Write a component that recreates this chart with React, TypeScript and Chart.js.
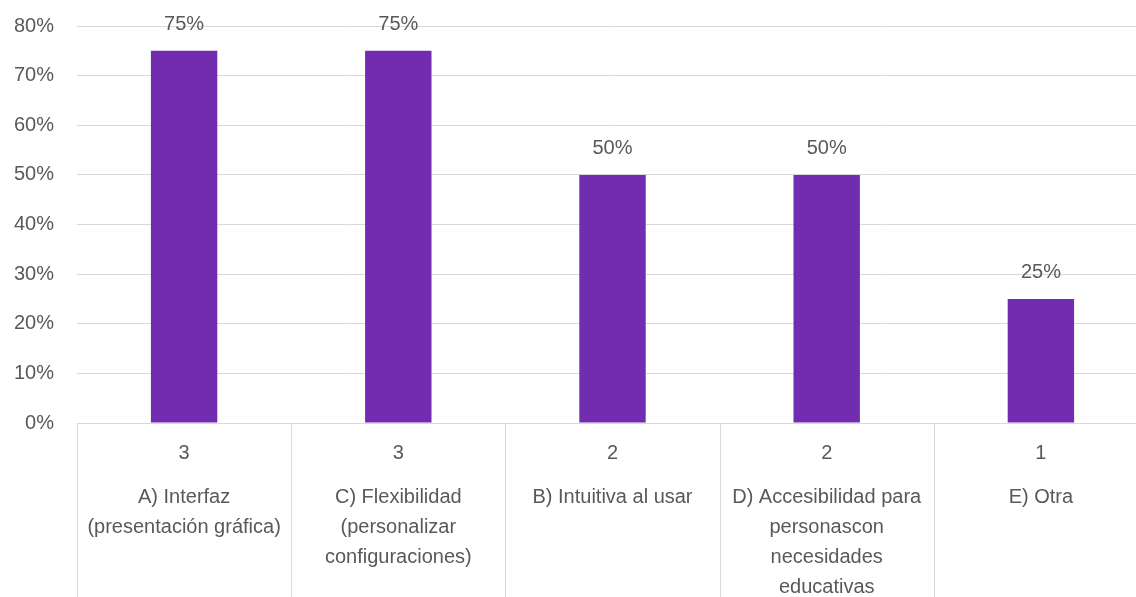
import React, { useEffect, useRef } from "react";
import { Chart, registerables } from "chart.js";

Chart.register(...registerables);

const categories: string[][] = [
  ["A) Interfaz", "(presentación gráfica)"],
  ["C) Flexibilidad", "(personalizar", "configuraciones)"],
  ["B) Intuitiva al usar"],
  ["D) Accesibilidad para", "personascon", "necesidades", "educativas"],
  ["E) Otra"],
];
const counts: number[] = [3, 3, 2, 2, 1];
const percents: number[] = [75, 75, 50, 50, 25];
const yTicks: number[] = [0, 10, 20, 30, 40, 50, 60, 70, 80];

const FONT = "'Liberation Sans', Arial, sans-serif";
const TEXT = "#595959";
const GRID = "#d9d9d9";
const SIZE = 20;

const tablePlugin = {
  id: "tablePlugin",
  afterDraw(chart: any) {
    const ctx = chart.ctx;
    const xs = chart.scales.x;
    const area = chart.chartArea;
    const n = categories.length;
    const step = xs.getPixelForValue(1) - xs.getPixelForValue(0);
    ctx.save();
    ctx.strokeStyle = GRID;
    ctx.lineWidth = 1;
    for (let i = 0; i <= n; i++) {
      const bx = Math.round(xs.getPixelForValue(i) - step / 2) + 0.5;
      ctx.beginPath();
      ctx.moveTo(bx, area.bottom);
      ctx.lineTo(bx, chart.height);
      ctx.stroke();
    }
    ctx.fillStyle = TEXT;
    ctx.textAlign = "center";
    ctx.textBaseline = "middle";
    ctx.font = `${SIZE}px ${FONT}`;
    for (let i = 0; i < n; i++) {
      const cx = xs.getPixelForValue(i);
      ctx.fillText(String(counts[i]), cx, area.bottom + 30);
      categories[i].forEach((line, j) => {
        ctx.fillText(line, cx, area.bottom + 74 + j * 30);
      });
    }
    // data labels
    const meta = chart.getDatasetMeta(0);
    meta.data.forEach((bar: any, i: number) => {
      ctx.fillText(percents[i] + "%", bar.x, bar.y - 26);
    });
    ctx.restore();
  },
};

export default function App() {
  const ref = useRef<HTMLCanvasElement | null>(null);
  useEffect(() => {
    if (!ref.current) return;
    const chart = new Chart(ref.current, {
      type: "bar",
      data: {
        labels: categories.map((c) => c.join(" ")),
        datasets: [
          {
            data: percents,
            backgroundColor: "#712CB0",
            borderWidth: 0,
            categoryPercentage: 1,
            barPercentage: 0.31,
          },
        ],
      },
      options: {
        responsive: false,
        animation: false,
        devicePixelRatio: 1,
        layout: { padding: { top: 26, left: 0, right: 0, bottom: 0 } },
        plugins: {
          legend: { display: false },
          tooltip: { enabled: false },
        },
        scales: {
          x: {
            grid: { display: false, drawTicks: false },
            border: { display: true, color: GRID },
            ticks: { display: false },
            afterFit: (s: any) => {
              s.height = 174;
              s.paddingLeft = 0;
              s.paddingRight = 0;
            },
          },
          y: {
            min: 0,
            max: 80,
            afterBuildTicks: (s: any) => {
              s.ticks = yTicks.map((v) => ({ value: v }));
            },
            grid: { color: GRID, drawTicks: false },
            border: { display: false },
            ticks: {
              padding: 23,
              color: TEXT,
              font: { size: SIZE, family: FONT },
              callback: (v: any) => v + "%",
            },
            afterFit: (s: any) => {
              s.width = 77;
              s.paddingTop = 0;
              s.paddingBottom = 0;
            },
          },
        },
      },
      plugins: [tablePlugin],
    });
    return () => chart.destroy();
  }, []);
  return (
    <div
      style={{
        position: "fixed",
        left: 0,
        top: 0,
        width: 1136,
        height: 597,
        overflow: "hidden",
        background: "#fff",
      }}
    >
      <canvas ref={ref} width={1148} height={597} style={{ display: "block" }} />
    </div>
  );
}
